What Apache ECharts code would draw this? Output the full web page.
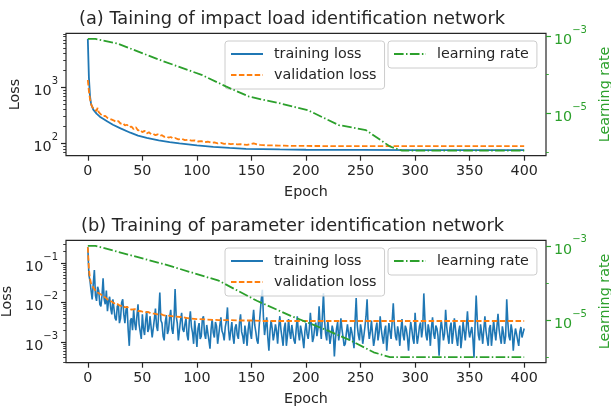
<!DOCTYPE html>
<html>
<head>
<meta charset="utf-8">
<title>training curves</title>
<script src="https://cdn.jsdelivr.net/npm/echarts@6.0.0/dist/echarts.min.js"></script>
<style>
html, body { margin: 0; padding: 0; background: #fff; }
#chart { width: 611px; height: 412px; }
</style>
</head>
<body>
<div id="chart"></div>
<script>
// ---- data ----
var epochTicks = [0, 50, 100, 150, 200, 250, 300, 350, 400];

// (a) impact load identification network
var trainEpochA = [0, 1, 2, 3, 5, 8, 11, 14, 18, 23, 30, 39, 46, 54, 65, 75, 84, 100, 115, 130, 145, 160, 176, 200, 250, 300, 400];
var trainLossA  = [7300, 1500, 700, 500, 400, 340, 300, 275, 245, 215, 185, 155, 138, 125, 113, 105, 100, 92, 87, 83, 80, 79, 78, 77, 76.5, 76, 76];
var valEpochA = [0, 1, 2, 3, 4, 5, 6, 7, 8, 9, 10, 11, 12,
  14, 16, 18, 20, 22, 24, 26, 28, 30, 32, 34, 36, 38, 40, 42, 44, 46, 48, 50, 52, 54, 56, 58, 60, 62, 64, 66, 68, 70, 72, 74, 76, 78, 80,
  83, 86, 89, 92, 95, 98, 101, 104, 107, 110, 113, 116, 119, 122, 125, 128, 131, 134, 137, 140, 143, 146, 149, 152, 155, 158, 161,
  165, 170, 175, 180, 190, 200, 250, 300, 350, 400];
var valLossA = [1350, 850, 620, 500, 450, 420, 400, 370, 380, 430, 360, 345, 330,
  305, 310, 285, 275, 265, 255, 240, 250, 225, 230, 210, 215, 195, 200, 180, 195, 170, 175, 158, 168, 150, 158, 146, 148, 140, 145, 136, 140, 131, 133, 127, 130, 123, 125,
  118, 121, 114, 116, 112, 113, 108, 110, 105, 107, 103, 104, 100, 102, 98, 100, 97, 98, 96, 97, 95, 94, 97, 100, 96, 94, 93,
  92, 92, 91, 91, 90, 90, 89, 89, 89, 89];
var lrEpochA = [0, 7, 27, 66, 105, 127, 148, 177, 202, 230, 255, 277, 288, 400];
var lrA      = [8.4e-4, 8.4e-4, 6.4e-4, 2.4e-4, 9.7e-5, 4.9e-5, 2.7e-5, 1.8e-5, 1.2e-5, 5e-6, 3.7e-6, 1.4e-6, 1.1e-6, 1.1e-6];
var lossTicksA = [100, 1000];
var lossMinorA = [70, 80, 90, 200, 300, 400, 500, 600, 700, 800, 900, 2000, 3000, 4000, 5000, 6000, 7000, 8000, 9000];

// (b) parameter identification network, one value per epoch 0..400
var trainLossB = [
  0.25, 0.05, 0.035, 0.02, 0.012, 0.03, 0.066, 0.015, 0.011, 0.025,
  0.02, 0.009, 0.008, 0.015, 0.041, 0.012, 0.009, 0.02, 0.006, 0.011,
  0.014, 0.007, 0.005, 0.012, 0.011, 0.004, 0.0035, 0.008, 0.009, 0.003,
  0.004, 0.01, 0.012, 0.005, 0.003, 0.0065, 0.008, 0.002, 0.0008, 0.0035,
  0.004, 0.002, 0.0065, 0.003, 0.002, 0.0045, 0.009, 0.0028, 0.0025, 0.0012,
  0.005, 0.0022, 0.0015, 0.0035, 0.006, 0.0018, 0.0022, 0.0045, 0.0045, 0.0013,
  0.0012, 0.0038, 0.007, 0.0025, 0.0019, 0.0055, 0.018, 0.0035, 0.003, 0.0014,
  0.0011, 0.0032, 0.0048, 0.0016, 0.002, 0.0042, 0.0065, 0.0022, 0.0016, 0.0035,
  0.022, 0.0045, 0.003, 0.0011, 0.0012, 0.0036, 0.0055, 0.0021, 0.0018, 0.0028,
  0.004, 0.0015, 0.0011, 0.0033, 0.006, 0.0024, 0.0017, 0.0009, 0.0035, 0.0016,
  0.00075, 0.0022, 0.003, 0.0012, 0.0014, 0.0038, 0.0045, 0.0016, 0.0012, 0.0027,
  0.0028, 0.0011, 0.00068, 0.0021, 0.0038, 0.0017, 0.0013, 0.0032, 0.0025, 0.0009,
  0.001, 0.0026, 0.0042, 0.0019, 0.0016, 0.0011, 0.0024, 0.0034, 0.0075, 0.0021,
  0.0011, 0.0019, 0.0032, 0.0014, 0.0009, 0.0023, 0.0028, 0.0015, 0.0012, 0.0031,
  0.005, 0.0018, 0.0014, 0.0009, 0.0026, 0.0016, 0.0008, 0.0021, 0.0035, 0.0017,
  0.0012, 0.0033, 0.0065, 0.0027, 0.0018, 0.0011, 0.0009, 0.0024, 0.0055, 0.012,
  0.021, 0.0042, 0.0015, 0.0026, 0.0042, 0.0013, 0.0006, 0.0019, 0.0035, 0.0022,
  0.0011, 0.0016, 0.0028, 0.0019, 0.0009, 0.0024, 0.0045, 0.0021, 0.0013, 0.0008,
  0.0022, 0.0031, 0.0008, 0.0014, 0.0038, 0.0018, 0.0012, 0.0027, 0.0025, 0.0011,
  0.0009, 0.0021, 0.0045, 0.0017, 0.0011, 0.0026, 0.0018, 0.0012, 0.0007, 0.0019,
  0.003, 0.0016, 0.0012, 0.0021, 0.0055, 0.0024, 0.001, 0.0013, 0.0024, 0.0031,
  0.0014, 0.0022, 0.008, 0.0025, 0.0012, 0.0045, 0.017, 0.0035, 0.0016, 0.0011,
  0.0035, 0.0017, 0.0009, 0.0014, 0.0026, 0.0019, 0.00043, 0.0012, 0.0022, 0.0032,
  0.0011, 0.0018, 0.004, 0.0021, 0.0013, 0.0008, 0.0009, 0.0017, 0.0028, 0.0016,
  0.0011, 0.0024, 0.0018, 0.0012, 0.0007, 0.0035, 0.013, 0.0026, 0.0015, 0.0011,
  0.0028, 0.0019, 0.0009, 0.0014, 0.0024, 0.0045, 0.012, 0.0023, 0.0012, 0.0018,
  0.0035, 0.0016, 0.0008, 0.0012, 0.0022, 0.0031, 0.0011, 0.0017, 0.0045, 0.0021,
  0.0013, 0.0009, 0.0019, 0.0026, 0.0006, 0.0014, 0.003, 0.0018, 0.0012, 0.0034,
  0.0095, 0.0028, 0.0014, 0.0011, 0.0025, 0.0017, 0.0008, 0.0021, 0.0038, 0.0015,
  0.0011, 0.0026, 0.0021, 0.0013, 0.0006, 0.0016, 0.0032, 0.0021, 0.0012, 0.0009,
  0.0055, 0.0019, 0.0009, 0.0014, 0.0025, 0.0031, 0.0013, 0.0022, 0.017, 0.0038,
  0.0015, 0.0011, 0.0028, 0.0019, 0.0008, 0.0023, 0.0042, 0.0016, 0.0012, 0.0026,
  0.0022, 0.0014, 0.00045, 0.0018, 0.0035, 0.0021, 0.0011, 0.0016, 0.0065, 0.0024,
  0.0014, 0.0009, 0.0023, 0.0031, 0.0009, 0.0017, 0.004, 0.0022, 0.0012, 0.0008,
  0.0019, 0.0026, 0.0007, 0.0013, 0.0032, 0.0019, 0.0011, 0.0024, 0.006, 0.0021,
  0.0013, 0.0018, 0.0024, 0.0012, 0.0004, 0.0028, 0.015, 0.0036, 0.0015, 0.0011,
  0.0028, 0.0017, 0.0009, 0.0021, 0.0045, 0.0019, 0.0012, 0.0008, 0.0022, 0.0027,
  0.0008, 0.0016, 0.0035, 0.0018, 0.0011, 0.0024, 0.0052, 0.0021, 0.0013, 0.0009,
  0.0025, 0.0017, 0.0009, 0.0014, 0.012, 0.0032, 0.0014, 0.0011, 0.0028, 0.0019,
  0.0006, 0.0013, 0.0022, 0.0016, 0.0011, 0.0008, 0.0018, 0.0024, 0.0013, 0.0017,
  0.0022
];
var trainEpochB = [];
for (var e = 0; e < trainLossB.length; e++) trainEpochB.push(e);
var valEpochB = [0, 1, 2, 3, 4, 5, 6, 7, 8, 9, 10,
  12, 14, 16, 18, 20, 22, 24, 26, 28, 30, 32, 34, 36, 38, 40,
  43, 46, 49, 52, 55, 58, 61, 64, 67, 70,
  75, 80, 85, 90, 95, 100,
  110, 120, 130, 140, 150, 160, 170, 180,
  200, 220, 240, 260, 280, 300, 320, 340, 360, 380, 400];
var valLossB = [0.25, 0.07, 0.04, 0.03, 0.028, 0.024, 0.022, 0.02, 0.021, 0.018, 0.017,
  0.016, 0.014, 0.0135, 0.012, 0.011, 0.0105, 0.0095, 0.0098, 0.0088, 0.0082, 0.0085, 0.0075, 0.0078, 0.007, 0.0066,
  0.0068, 0.0061, 0.006, 0.0056, 0.0058, 0.0053, 0.0052, 0.005, 0.0051, 0.0047,
  0.0046, 0.0044, 0.0043, 0.0041, 0.0039, 0.0038,
  0.0037, 0.0036, 0.0036, 0.0035, 0.0035, 0.0034, 0.0034, 0.0034,
  0.0034, 0.0034, 0.0034, 0.0034, 0.0034, 0.0034, 0.0034, 0.0034, 0.0034, 0.0034, 0.0034];
var lrEpochB = [0, 7, 70, 120, 155, 186, 220, 241, 262, 277, 400];
var lrB      = [1e-3, 1e-3, 3.2e-4, 1.15e-4, 3.3e-5, 1.3e-5, 5.2e-6, 2.8e-6, 1.35e-6, 1e-6, 1e-6];
var lossTicksB = [1e-3, 1e-2, 1e-1];
var lossMinorB = [3e-4, 4e-4, 5e-4, 6e-4, 7e-4, 8e-4, 9e-4, 2e-3, 3e-3, 4e-3, 5e-3, 6e-3, 7e-3, 8e-3, 9e-3, 2e-2, 3e-2, 4e-2, 5e-2, 6e-2, 7e-2, 8e-2, 9e-2, 2e-1, 3e-1];

var lrTicks = [1e-5, 1e-3];
var lrMinor = [1e-6, 1e-4];

// ---- style ----
var font = 'DejaVu Sans';
var dark = '#262626';
var blue = '#1f77b4', orange = '#ff7f0e', green = '#2ca02c';
var fs = 14.3;

function zip(xs, ys) {
    var out = [];
    for (var i = 0; i < xs.length; i++) out.push([xs[i], ys[i]]);
    return out;
}

function sci(v) {
    var p = Math.round(Math.log10(v));
    return '{b|10}{s|' + (p < 0 ? '\u2212' + (-p) : p) + '}';
}

function rich(color) {
    return {
        b: {fontSize: fs, color: color, fontFamily: font, lineHeight: 22, verticalAlign: 'bottom'},
        s: {fontSize: 10, color: color, fontFamily: font, lineHeight: 12, verticalAlign: 'top'}
    };
}

function xAx(gi) {
    return {
        type: 'value', gridIndex: gi, min: -20, max: 420,
        name: 'Epoch', nameLocation: 'middle', nameGap: 30,
        nameTextStyle: {fontSize: fs, color: dark, fontFamily: font},
        axisLine: {show: false, onZero: false}, splitLine: {show: false},
        axisTick: {show: true, customValues: epochTicks, length: 5, lineStyle: {color: dark, width: 1.2}},
        axisLabel: {customValues: epochTicks, margin: 9, fontSize: fs, color: dark, fontFamily: font}
    };
}

function yAx(gi, pos, lo, hi, ticks, color, name) {
    return {
        type: 'log', logBase: 10, gridIndex: gi, position: pos, min: lo, max: hi,
        name: name, nameLocation: 'middle', nameRotate: 90, nameGap: 44,
        nameTextStyle: {fontSize: fs, color: color, fontFamily: font},
        axisLine: {show: false, onZero: false}, splitLine: {show: false},
        axisTick: {show: true, customValues: ticks, length: 5, lineStyle: {color: color, width: 1.2}},
        axisLabel: {customValues: ticks, margin: 8, formatter: sci, rich: rich(color)}
    };
}

function minorAx(gi, pos, lo, hi, ticks, color) {
    return {
        type: 'log', logBase: 10, gridIndex: gi, position: pos, min: lo, max: hi,
        axisLine: {show: false, onZero: false}, splitLine: {show: false},
        axisTick: {show: true, customValues: ticks, length: 2.8, lineStyle: {color: color, width: 0.9}},
        axisLabel: {show: false}
    };
}

function line(name, xi, yi, data, color, type, z, w) {
    return {
        type: 'line', name: name, xAxisIndex: xi, yAxisIndex: yi, data: data,
        symbol: 'none', z: z, silent: true,
        itemStyle: {color: color},
        lineStyle: {color: color, width: w || 1.8, type: type}
    };
}

function legend(left, top, names) {
    return {
        data: names, orient: 'vertical', left: left, top: top,
        padding: [6, 8, 7, 5], itemGap: 7, itemWidth: 32, itemHeight: 14,
        backgroundColor: 'rgba(255,255,255,0.8)', borderColor: '#cccccc', borderWidth: 1, borderRadius: 3,
        selectedMode: false,
        itemStyle: {opacity: 0},
        textStyle: {fontSize: fs, color: dark, fontFamily: font, padding: [0, 0, 0, 6]}
    };
}

function grid(top) {
    return {
        left: 66, right: 65, top: top, height: 122.4, outerBoundsMode: 'none', containLabel: false,
        show: true, borderColor: dark, borderWidth: 1.2, backgroundColor: 'transparent'
    };
}

var dashed = [5.5, 2.4];
var dashdot = [9.6, 2.4, 1.5, 2.4];

var chart = echarts.init(document.getElementById('chart'));
chart.setOption({
    animation: false,
    textStyle: {fontFamily: font},
    title: [
        {text: '(a) Taining of impact load identification network', left: 79, top: 10.5, padding: 0,
         textStyle: {fontSize: 17.8, fontWeight: 'normal', color: dark, fontFamily: font}},
        {text: '(b) Training of parameter identification network', left: 81, top: 217.5, padding: 0,
         textStyle: {fontSize: 17.8, fontWeight: 'normal', color: dark, fontFamily: font}}
    ],
    grid: [grid(33.3), grid(240.3)],
    legend: [
        legend(225, 41, ['training loss', 'validation loss']),
        legend(388, 41, ['learning rate']),
        legend(225, 248, ['training loss', 'validation loss']),
        legend(388, 248, ['learning rate'])
    ],
    xAxis: [xAx(0), xAx(1)],
    yAxis: [
        yAx(0, 'left', 60.3, 9200, lossTicksA, dark, 'Loss'),
        yAx(0, 'right', 8.1e-7, 1.17e-3, lrTicks, green, 'Learning rate'),
        minorAx(0, 'left', 60.3, 9200, lossMinorA, dark),
        minorAx(0, 'right', 8.1e-7, 1.17e-3, lrMinor, green),
        yAx(1, 'left', 2.99e-4, 0.376, lossTicksB, dark, 'Loss'),
        yAx(1, 'right', 7.08e-7, 1.41e-3, lrTicks, green, 'Learning rate'),
        minorAx(1, 'left', 2.99e-4, 0.376, lossMinorB, dark),
        minorAx(1, 'right', 7.08e-7, 1.41e-3, lrMinor, green)
    ],
    series: [
        line('training loss', 0, 0, zip(trainEpochA, trainLossA), blue, 'solid', 2),
        line('validation loss', 0, 0, zip(valEpochA, valLossA), orange, dashed, 3),
        line('learning rate', 0, 1, zip(lrEpochA, lrA), green, dashdot, 4),
        line('training loss', 1, 4, zip(trainEpochB, trainLossB), blue, 'solid', 2, 1.6),
        line('validation loss', 1, 4, zip(valEpochB, valLossB), orange, dashed, 3),
        line('learning rate', 1, 5, zip(lrEpochB, lrB), green, dashdot, 4)
    ]
});
</script>
</body>
</html>
